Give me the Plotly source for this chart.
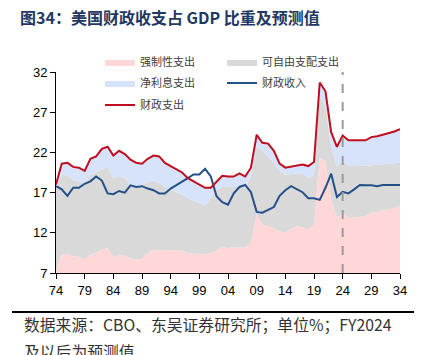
import plotly.graph_objects as go

years = list(range(1974, 2035))
tick_years = list(range(1974, 2035, 5))
tick_labels = [str(y)[-2:] for y in tick_years]
forecast_start = 2024

mandatory = [7.3, 9.3, 9.4, 9.1, 9.0, 8.7, 9.3, 9.5, 9.9, 10.1,
             9.0, 9.3, 9.1, 8.8, 8.7, 8.7, 9.5, 9.9, 9.8, 9.9,
             9.8, 9.8, 9.8, 9.5, 9.4, 9.4, 9.3, 9.5, 9.8, 10.2,
             10.1, 10.2, 10.2, 10.1, 10.8, 14.3, 13.0, 12.8, 12.6, 12.2,
             12.0, 12.5, 12.8, 12.7, 12.4, 13.0, 21.3, 20.9, 16.1, 13.9,
             14.5, 13.8, 13.9, 14.0, 14.1, 14.5, 14.6, 14.8, 14.9, 15.1, 15.3]
discretionary = [10.3, 9.95, 9.7, 9.5, 9.4, 9.5, 9.9, 10.0, 10.0, 10.1,
                 9.8, 9.7, 9.7, 9.2, 9.2, 9.2, 8.8, 8.6, 8.4, 7.8,
                 7.6, 7.3, 7.0, 6.9, 6.6, 6.3, 6.1, 6.8, 7.6, 7.5,
                 7.6, 7.5, 7.5, 7.5, 8.2, 8.55, 9.2, 8.7, 8.1, 7.5,
                 7.25, 6.8, 6.6, 6.7, 6.4, 6.25, 7.7, 6.85, 6.6, 6.3,
                 6.4, 6.5, 6.4, 6.3, 6.25, 5.9, 5.85, 5.7, 5.65, 5.5, 5.4]
net_interest = [0.4, 1.35, 1.6, 1.6, 1.7, 1.5, 2.0, 2.0, 2.55, 2.5,
                2.8, 3.2, 3.0, 3.1, 2.8, 2.7, 2.9, 3.1, 3.3, 3.0,
                2.9, 2.85, 2.7, 2.4, 2.4, 2.3, 2.2, 1.3, 1.0, 1.4,
                1.3, 1.3, 1.7, 1.4, 1.1, 1.35, 1.0, 1.6, 1.5, 0.9,
                0.85, 0.95, 1.0, 1.1, 1.5, 1.55, 1.7, 1.85, 1.8, 2.5,
                3.2, 3.2, 3.2, 3.2, 3.15, 3.5, 3.55, 3.7, 3.85, 4.0, 4.2]
outlays = [18.0, 20.6, 20.7, 20.2, 20.1, 19.7, 21.2, 21.5, 22.45, 22.7,
           21.6, 22.2, 21.8, 21.1, 20.7, 20.6, 21.2, 21.6, 21.5, 20.7,
           20.3, 19.95, 19.5, 18.8, 18.4, 18.0, 17.6, 17.6, 18.4, 19.1,
           19.0, 19.0, 19.4, 19.0, 20.1, 24.2, 23.2, 23.1, 22.2, 20.6,
           20.1, 20.25, 20.4, 20.5, 20.3, 20.8, 30.7, 29.6, 24.5, 22.7,
           24.1, 23.5, 23.5, 23.5, 23.5, 23.9, 24.0, 24.2, 24.4, 24.6, 24.9]
revenues = [17.8, 17.4, 16.6, 17.6, 17.6, 18.1, 18.4, 19.0, 18.5, 16.9,
            16.8, 17.2, 17.0, 17.9, 17.7, 17.8, 17.5, 17.3, 16.9, 16.9,
            17.5, 17.9, 18.4, 18.8, 19.25, 19.25, 19.95, 19.0, 16.55, 15.8,
            15.5, 16.9, 17.7, 17.95, 17.05, 14.6, 14.5, 14.9, 15.2, 16.6,
            17.3, 17.8, 17.4, 17.05, 16.3, 16.3, 16.1, 17.6, 19.35, 16.45,
            17.1, 16.9, 17.4, 17.95, 17.9, 17.9, 17.8, 17.95, 17.95, 17.95, 17.95]

CJK = "Noto Sans CJK SC"
fig = go.Figure()
fig.add_trace(go.Scatter(x=years, y=mandatory, name="强制性支出", stackgroup="s",
                         mode="lines", line=dict(width=0), fillcolor="#FFD7D9", legend="legend"))
fig.add_trace(go.Scatter(x=years, y=discretionary, name="可自由支配支出", stackgroup="s",
                         mode="lines", line=dict(width=0), fillcolor="#D9D9D9", legend="legend"))
fig.add_trace(go.Scatter(x=years, y=net_interest, name="净利息支出", stackgroup="s",
                         mode="lines", line=dict(width=0), fillcolor="#D7E2FB", legend="legend2"))
fig.add_trace(go.Scatter(x=years, y=revenues, name="财政收入", mode="lines",
                         line=dict(color="#24508A", width=2), legend="legend2"))
fig.add_trace(go.Scatter(x=years, y=outlays, name="财政支出", mode="lines",
                         line=dict(color="#C00E1E", width=2), legend="legend3"))

fig.add_vline(x=forecast_start, line=dict(color="#9A9A9A", width=2, dash="dash"))

L, R, T, B = 56, 28, 72, 82
W, H = 428, 355
pw, ph = W - L - R, H - T - B

def px(x):
    return (x - L) / pw

def py(y):
    return (H - B - y) / ph

leg_common = dict(orientation="h", xanchor="left", yanchor="middle",
                  bgcolor="rgba(0,0,0,0)", entrywidth=77, entrywidthmode="pixels",
                  font=dict(family=CJK, size=11, color="#404040"), itemwidth=30,
                  traceorder="normal")
fig.update_layout(
    width=W, height=H, margin=dict(l=L, r=R, t=T, b=B, autoexpand=False),
    paper_bgcolor="white", plot_bgcolor="white",
    showlegend=True,
    legend=dict(x=px(100), y=py(62), **leg_common),
    legend2=dict(x=px(100), y=py(83), **leg_common),
    legend3=dict(x=px(100), y=py(105), **leg_common),
    title=dict(text="<b>图34：美国财政收支占 GDP 比重及预测值</b>", xref="container",
               yref="container", x=20 / W, xanchor="left", y=1 - 18 / H, yanchor="middle",
               font=dict(family=CJK, size=16, color="#1F3864")),
    xaxis=dict(range=[1974, 2034], tickvals=tick_years, ticktext=tick_labels,
               showline=True, linecolor="black", linewidth=1, ticks="outside",
               ticklen=5, tickcolor="black", showgrid=False, zeroline=False,
               tickfont=dict(family="Liberation Sans", size=13, color="black")),
    yaxis=dict(range=[7, 32], tick0=7, dtick=5, showline=True, linecolor="black",
               linewidth=1, ticks="outside", ticklen=5, tickcolor="black",
               showgrid=False, zeroline=False,
               tickfont=dict(family="Liberation Sans", size=13, color="black")),
    shapes=[
        dict(type="line", xref="paper", yref="paper", x0=px(12), x1=px(414),
             y0=py(34), y1=py(34), line=dict(color="black", width=2)),
        dict(type="line", xref="paper", yref="paper", x0=px(12), x1=px(414),
             y0=py(312), y1=py(312), line=dict(color="black", width=2)),
    ],
    annotations=[
        dict(text="数据来源：CBO、东吴证券研究所；单位%；FY2024", xref="paper", yref="paper",
             x=px(22), y=py(324), xanchor="left", yanchor="middle", showarrow=False,
             font=dict(family=CJK, size=15.8, color="#333333")),
        dict(text="及以后为预测值", xref="paper", yref="paper",
             x=px(22), y=py(351), xanchor="left", yanchor="middle", showarrow=False,
             font=dict(family=CJK, size=15.8, color="#333333")),
    ],
)

fig.write_html("out.html", config={"displayModeBar": False},
               post_script="document.body.style.margin='0';")
